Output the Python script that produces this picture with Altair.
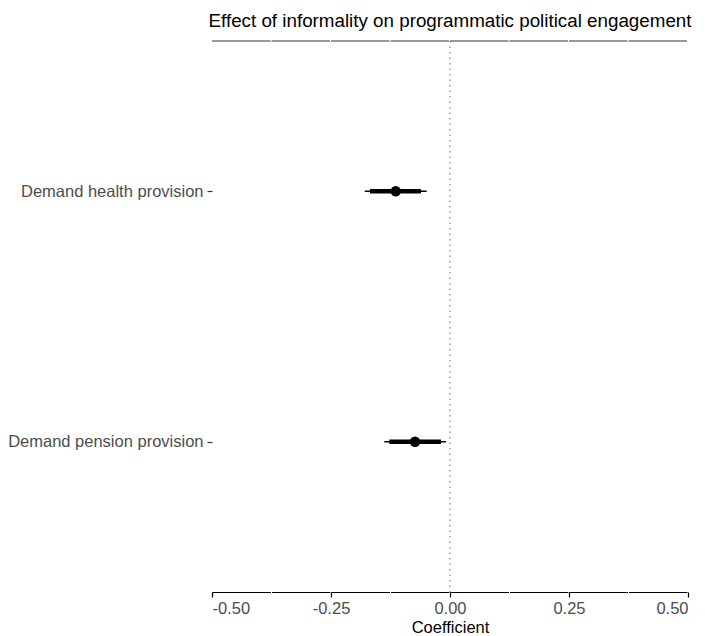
import altair as alt
import pandas as pd

terms = ["Demand health provision", "Demand pension provision"]
estimate = [-0.114, -0.0735]
ci90_low = [-0.168, -0.1275]
ci90_high = [-0.061, -0.019]
ci95_low = [-0.179, -0.138]
ci95_high = [-0.049, -0.0084]
x_ticks = [-0.5, -0.25, 0.0, 0.25, 0.5]

df = pd.DataFrame({
    "term": terms,
    "estimate": estimate,
    "lo90": ci90_low,
    "hi90": ci90_high,
    "lo95": ci95_low,
    "hi95": ci95_high,
})

W, H = 476, 551
FONT = "Liberation Sans"
LS = 16.5

xscale = alt.Scale(domain=[-0.5, 0.5], nice=False, zero=False)
yscale = alt.Scale(type="point", padding=0.6, domain=terms)

base = alt.Chart(df)

zero_line = alt.Chart(pd.DataFrame({"z": [0.0]})).mark_rule(
    color="#888888", strokeDash=[1.5, 4], strokeWidth=1.2
).encode(x=alt.X("z:Q", scale=xscale))

top_line = alt.Chart(pd.DataFrame({"a": [-0.5], "b": [0.5]})).mark_rule(
    color="#333333", strokeWidth=1.1, strokeDash=[58.5, 1]
).encode(x=alt.X("a:Q", scale=xscale), x2="b:Q", y=alt.value(0))

thin = base.mark_rule(color="black", strokeWidth=1.5).encode(
    x=alt.X("lo95:Q", scale=xscale,
            axis=alt.Axis(values=x_ticks, title="Coefficient",
                          labelExpr="datum.value < 0 ? '-' + format(-datum.value, '.2f') : format(datum.value, '.2f')",
                          grid=False, domainColor="black", domainWidth=1.2,
                          domainDash=[58.5, 1],
                          tickColor="black", tickSize=5, tickWidth=1.2,
                          labelColor="#4D4D4D", labelFontSize=LS, labelFont=FONT,
                          labelPadding=3,
                          titleColor="black", titleFontSize=LS, titleFont=FONT,
                          titleFontWeight="normal", titlePadding=3)),
    x2="hi95:Q",
    y=alt.Y("term:N", scale=yscale, sort=terms,
            axis=alt.Axis(title=None, domain=False, grid=False,
                          tickColor="#333333", tickSize=5, tickWidth=1.2,
                          labelColor="#4D4D4D", labelFontSize=LS, labelFont=FONT,
                          labelPadding=4, labelLimit=0)),
)

thick = base.mark_rule(color="black", strokeWidth=4.5).encode(
    x=alt.X("lo90:Q", scale=xscale), x2="hi90:Q",
    y=alt.Y("term:N", scale=yscale, sort=terms),
)

pts = base.mark_circle(color="black", size=110, opacity=1).encode(
    x=alt.X("estimate:Q", scale=xscale),
    y=alt.Y("term:N", scale=yscale, sort=terms),
)

chart = alt.layer(zero_line, top_line, thin, thick, pts).properties(
    width=W, height=H,
    title=alt.Title("Effect of informality on programmatic political engagement",
                    fontSize=18.8, font=FONT, fontWeight="normal", color="black",
                    anchor="middle", offset=10),
    autosize=alt.AutoSizeParams(type="none"),
    padding={"left": 204, "top": 33, "right": 9, "bottom": 44},
).configure(background="white").configure_view(stroke=None)

chart.save("out.html", embed_options={"renderer": "svg", "actions": False})
